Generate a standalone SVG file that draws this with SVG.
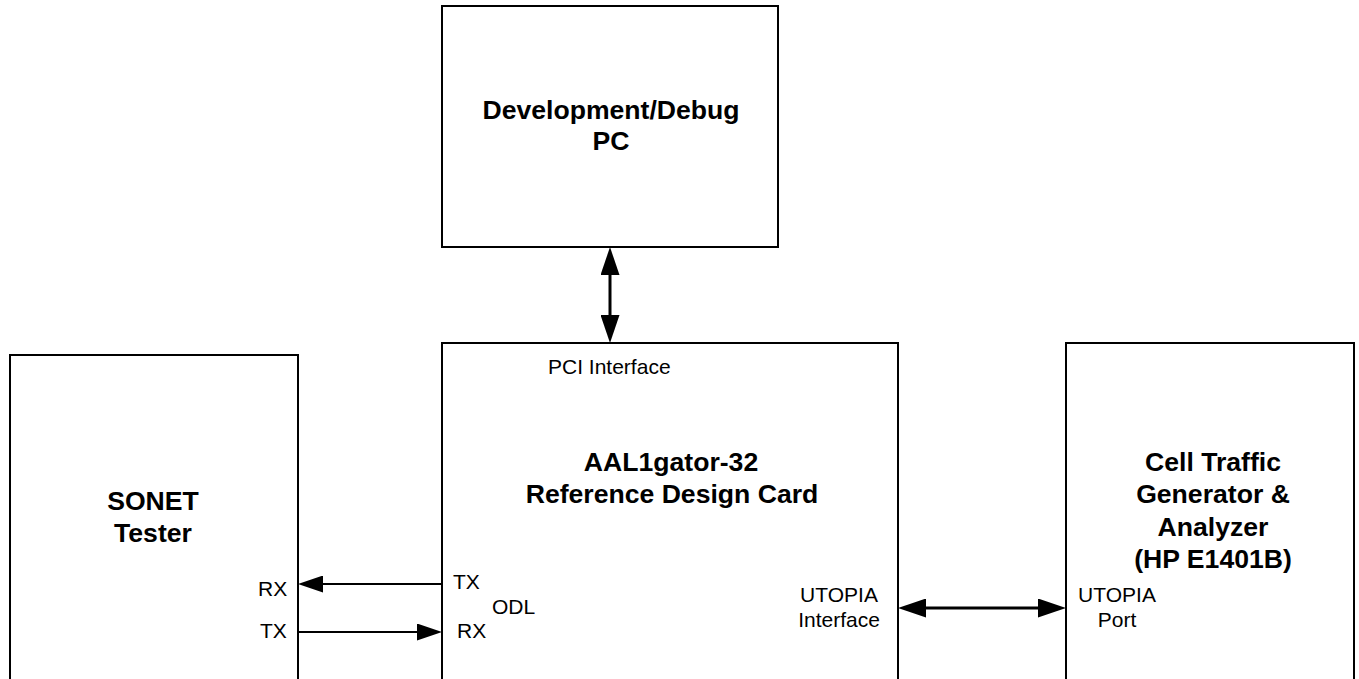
<svg xmlns="http://www.w3.org/2000/svg" width="1359" height="679" viewBox="0 0 1359 679">
  <style>
    .box { fill: #ffffff; stroke: #000000; stroke-width: 2; }
    .title { font-family: "Liberation Sans", Arial, sans-serif; font-size: 26.6px; font-weight: bold; fill: #000000; text-anchor: middle; }
    .label { font-family: "Liberation Sans", Arial, sans-serif; font-size: 21px; fill: #000000; }
    .mid { text-anchor: middle; }
    .wire { stroke: #000000; fill: none; }
    .thick { stroke-width: 3; }
    .thin { stroke-width: 2; }
  </style>
  <defs>
    <marker id="headBig" markerUnits="userSpaceOnUse" markerWidth="28" markerHeight="19" refX="18" refY="9.5" orient="auto-start-reverse">
      <path d="M0,0 L28,9.5 L0,19 z" fill="#000000"/>
    </marker>
    <marker id="headSmall" markerUnits="userSpaceOnUse" markerWidth="25" markerHeight="17" refX="15" refY="8.5" orient="auto-start-reverse">
      <path d="M0,0 L25,8.5 L0,17 z" fill="#000000"/>
    </marker>
  </defs>

  <rect width="1359" height="679" fill="#ffffff"/>

  <!-- Development / debug host -->
  <g id="dev-pc">
    <rect class="box" x="442" y="6" width="336" height="241"/>
    <text class="title" x="611" y="119">Development/Debug</text>
    <text class="title" x="611" y="150">PC</text>
  </g>

  <!-- SONET tester -->
  <g id="sonet-tester">
    <rect class="box" x="10" y="355" width="288" height="340"/>
    <text class="title" x="153" y="510">SONET</text>
    <text class="title" x="153" y="542">Tester</text>
    <text class="label" x="258" y="596">RX</text>
    <text class="label" x="260" y="638">TX</text>
  </g>

  <!-- Reference design card -->
  <g id="reference-card">
    <rect class="box" x="442" y="343" width="456" height="352"/>
    <text class="label" x="548" y="374">PCI Interface</text>
    <text class="title" x="671" y="471">AAL1gator-32</text>
    <text class="title" x="672" y="503">Reference Design Card</text>
    <text class="label" x="453" y="589">TX</text>
    <text class="label" x="492" y="614">ODL</text>
    <text class="label" x="457" y="638">RX</text>
    <text class="label mid" x="839" y="602">UTOPIA</text>
    <text class="label mid" x="839" y="627">Interface</text>
  </g>

  <!-- Cell traffic generator / analyzer -->
  <g id="cell-traffic">
    <rect class="box" x="1066" y="343" width="288" height="352"/>
    <text class="title" x="1213" y="471">Cell Traffic</text>
    <text class="title" x="1213" y="503">Generator &amp;</text>
    <text class="title" x="1213" y="536">Analyzer</text>
    <text class="title" x="1213" y="568">(HP E1401B)</text>
    <text class="label mid" x="1117" y="602">UTOPIA</text>
    <text class="label mid" x="1117" y="627">Port</text>
  </g>

  <!-- Connectors -->
  <g id="connectors">
    <line class="wire thick" x1="610" y1="257" x2="610" y2="333" marker-start="url(#headBig)" marker-end="url(#headBig)"/>
    <line class="wire thin" x1="442" y1="584" x2="308" y2="584" marker-end="url(#headSmall)"/>
    <line class="wire thin" x1="298" y1="632" x2="432" y2="632" marker-end="url(#headSmall)"/>
    <line class="wire thick" x1="908" y1="608" x2="1056" y2="608" marker-start="url(#headBig)" marker-end="url(#headBig)"/>
  </g>
</svg>
